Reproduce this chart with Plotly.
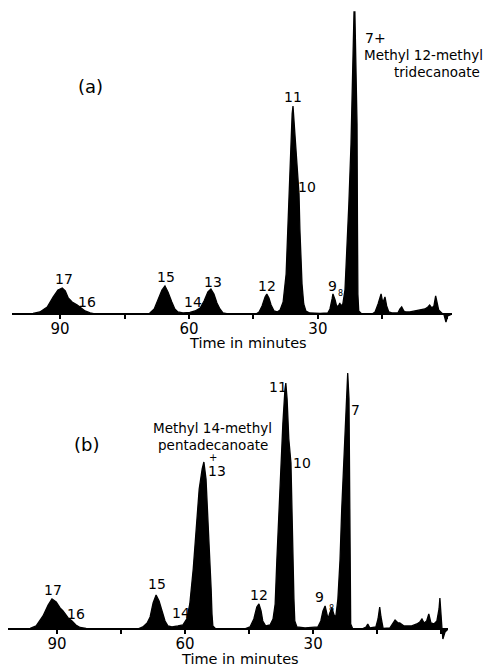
import plotly.graph_objects as go

# ---- Panel (a): retention time (min) and detector response (arb. units) ----
time_a = [101.2, 96.3, 94.7, 93.0, 91.6, 90.5, 89.5, 88.8, 88.1, 87.2, 86.0, 85.1, 84.2, 83.0, 81.9,
          69.5, 69.1, 68.1, 67.2, 66.3, 65.6, 64.9, 64.0, 63.3, 62.6, 61.4, 59.8, 58.6, 57.4, 56.5,
          55.6, 54.9, 54.2, 53.5, 52.8, 52.1, 50.9,
          44.4, 43.7, 43.0, 42.3, 41.9, 41.4, 40.9, 40.2, 39.5, 38.8, 38.1, 37.4, 37.0, 36.5, 36.0,
          35.8, 35.6, 35.1, 34.7, 34.4, 34.2, 34.0, 33.7, 33.3, 32.8, 31.9, 29.5,
          27.7, 27.2, 26.7, 26.5, 26.0, 25.6, 25.1, 24.9, 24.7, 24.2, 23.7, 23.3, 22.8, 22.3, 22.1,
          21.9, 21.6, 21.4, 21.2, 20.9, 20.8, 20.7, 20.5, 19.8,
          17.4, 16.7, 16.0, 15.3, 14.9, 14.4, 14.0, 13.5, 12.8, 11.4, 10.9, 10.5, 10.0, 9.5, 8.6,
          7.4, 6.3, 5.1, 4.4, 4.0, 3.5, 3.0, 2.6, 2.3, 1.9, 1.2, 0.7, 0.2, -0.2, -1.2]
resp_a = [0, 0.5, 2, 7, 17, 24, 26, 23, 16, 12, 9, 6, 3, 1, 0,
          0, 1, 5, 14, 24, 28, 22, 12, 5, 2, 1, 1.5, 3, 6, 13,
          22, 25, 20, 11, 5, 1, 0,
          0, 2, 8, 17, 20, 16, 9, 3, 2, 4, 12, 40, 90, 150, 200,
          208, 195, 160, 138, 120, 85, 55, 30, 10, 3, 1, 0.5,
          1, 5, 15, 20, 14, 7, 9, 11, 8, 10, 24, 60, 110, 170, 215,
          260, 302, 302, 250, 190, 90, 20, 3, 0,
          0, 2, 10, 20, 11, 17, 8, 2, 1, 1, 5, 7, 3, 2, 2,
          3, 4, 5, 7, 9, 6, 8, 18, 10, 4, 1, 0, -8, -2, 0]

# ---- Panel (b) ----
time_b = [101.5, 96.3, 94.9, 93.3, 92.1, 91.2, 90.2, 89.3, 88.6, 87.4, 86.5, 85.6, 84.6, 83.2, 81.1,
          71.0, 69.9, 68.9, 68.2, 67.5, 66.8, 66.1, 65.4, 64.7, 64.0, 63.1, 61.7, 60.5, 59.6, 58.9,
          58.1, 57.4, 56.7, 56.0, 55.6, 55.1, 54.6, 54.2, 53.9, 53.7, 53.5, 52.8,
          46.0, 44.8, 43.9, 43.2, 42.7, 42.2, 41.8, 41.1, 40.1, 39.4, 38.9, 38.5, 38.0, 37.5, 37.1,
          36.6, 36.4, 36.1, 35.7, 35.2, 35.0, 34.7, 34.5, 34.3, 33.8, 31.9,
          28.9, 28.2, 27.7, 27.2, 26.8, 26.5, 26.1, 25.6, 25.1, 24.7, 24.2, 23.7, 23.3, 22.8, 22.3,
          22.1, 21.9, 21.6, 21.4, 21.3, 21.2, 20.7,
          18.6, 17.6, 17.2, 16.7, 15.3, 14.8, 14.4, 14.1, 13.6, 12.0, 11.3, 10.8, 10.1, 9.7, 8.7,
          7.8, 6.9, 5.7, 5.0, 4.5, 4.0, 3.4, 2.9, 2.4, 1.7, 1.0, 0.5, 0.3, 0.1, -0.2, -0.4, -0.9, -1.6]
resp_b = [0, 0.5, 3, 13, 24, 30, 27, 21, 18, 11, 8, 4, 1.5, 0.5, 0,
          0, 2, 6, 12, 26, 34, 28, 18, 8, 3, 2, 3, 4, 10, 25,
          60, 100, 140, 160, 167, 150, 110, 70, 40, 15, 3, 0,
          0, 2, 10, 22, 25, 18, 8, 3, 4, 10, 25, 69, 120, 166, 205,
          240, 246, 230, 190, 166, 120, 69, 30, 8, 2, 1,
          2, 8, 18, 23, 14, 10, 16, 21, 14, 12, 30, 69, 120, 166, 210,
          240, 256, 230, 150, 60, 5, 0,
          0, 2, 5, 1, 2, 10, 22, 12, 0.5, 1, 5, 9, 6, 6, 3,
          3, 3, 5, 7, 10, 6, 8, 15, 6, 5, 8, 20, 31, 15, 0, -10, -3, 0]

tick_vals = [90, 75, 60, 45, 30, 15, 0]
tick_text = ["90", "", "60", "", "30", "", ""]

FONT = "DejaVu Sans"

fig = go.Figure()
fig.add_trace(go.Scatter(x=time_a, y=resp_a, mode="lines", fill="tozeroy",
                         line=dict(color="black", width=1.3), fillcolor="black",
                         xaxis="x", yaxis="y", showlegend=False, hoverinfo="skip"))
fig.add_trace(go.Scatter(x=time_b, y=resp_b, mode="lines", fill="tozeroy",
                         line=dict(color="black", width=1.3), fillcolor="black",
                         xaxis="x2", yaxis="y2", showlegend=False, hoverinfo="skip"))

axis_common = dict(tickmode="array", tickvals=tick_vals, ticktext=tick_text,
                   ticks="outside", ticklen=4, tickwidth=1.5, tickcolor="black",
                   showline=True, linecolor="black", linewidth=1.8,
                   showgrid=False, zeroline=False, anchor="free",
                   ticklabelstandoff=-3,
                   tickfont=dict(family=FONT, size=15, color="black"))

# page body adds an 8px margin, so the figure is 492x659
fig.update_layout(
    width=492, height=659,
    margin=dict(l=0, r=0, t=0, b=0),
    paper_bgcolor="white", plot_bgcolor="white",
    xaxis=dict(range=[101.2, -1.2], domain=[0.0081, 0.9024], position=0.5357, **axis_common),
    yaxis=dict(range=[-12, 306], domain=[0.5175, 1.0], visible=False, anchor="x"),
    xaxis2=dict(range=[101.5, -1.6], domain=[0.0, 0.8943], position=0.0577, **axis_common),
    yaxis2=dict(range=[-12, 299], domain=[0.0395, 0.5114], visible=False, anchor="x2"),
)

def lab(text, x, y, ax="x", ay="y", size=14, xanchor="center"):
    fig.add_annotation(text=text, x=x, y=y, xref=ax, yref=ay, showarrow=False,
                       xanchor=xanchor, yanchor="middle",
                       font=dict(family=FONT, size=size, color="black"))

# Panel (a) labels
lab("(a)", 83.0, 227, size=18)
lab("17", 89.1, 35)
lab("16", 83.7, 12)
lab("15", 65.3, 37)
lab("14", 59.1, 12)
lab("13", 54.4, 32)
lab("12", 41.9, 28)
lab("11", 35.8, 217)
lab("10", 32.6, 127)
lab("9", 26.7, 28)
lab("8", 24.7, 20, size=8)
lab("7+", 19.5, 276, xanchor="left")
lab("Methyl 12-methyl", 19.8, 259, size=13.5, xanchor="left")
lab("tridecanoate", 2.3, 242, size=13.5)

# Panel (b) labels
lab("(b)", 83.0, 184, "x2", "y2", size=18)
lab("Methyl 14-methyl", 53.5, 201, "x2", "y2", size=13.5)
lab("pentadecanoate", 53.5, 184, "x2", "y2", size=13.5)
lab("+", 53.5, 171, "x2", "y2", size=10)
lab("13", 52.5, 158, "x2", "y2")
lab("11", 38.2, 242, "x2", "y2")
lab("7", 20.0, 219, "x2", "y2")
lab("10", 32.6, 166, "x2", "y2")
lab("17", 90.9, 39, "x2", "y2")
lab("16", 85.6, 15, "x2", "y2")
lab("15", 66.6, 45, "x2", "y2")
lab("14", 61.0, 16, "x2", "y2")
lab("12", 42.7, 34, "x2", "y2")
lab("9", 28.4, 32, "x2", "y2")
lab("8", 25.6, 20, "x2", "y2", size=8)

# Axis titles
for xp, yp in [(0.4878, 0.4917), (0.4715, 0.0121)]:
    fig.add_annotation(text="Time in minutes", x=xp, y=yp, xref="paper", yref="paper",
                       showarrow=False, xanchor="center", yanchor="middle",
                       font=dict(family=FONT, size=14.5, color="black"))

fig.write_html("out.html")
